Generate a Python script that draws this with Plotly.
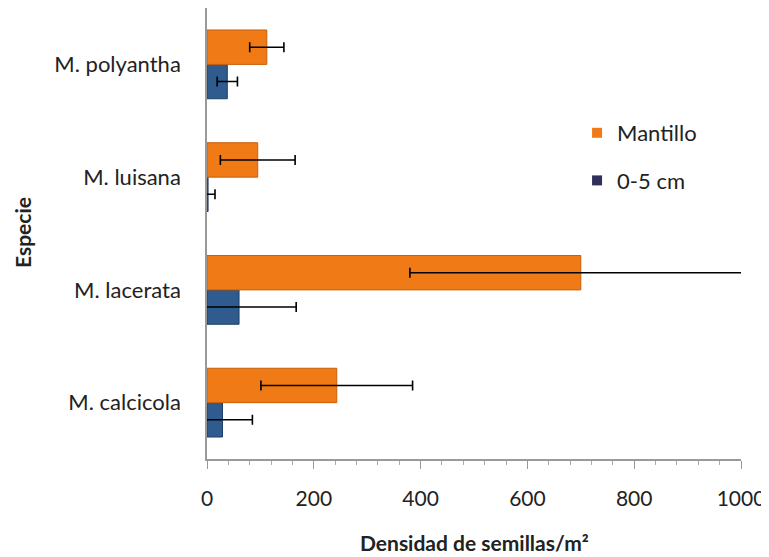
import plotly.graph_objects as go

species = ["M. calcicola", "M. lacerata", "M. luisana", "M. polyantha"]
mantillo = [243, 700, 95, 112]
mantillo_err = [142, 320, 70, 32]
suelo = [29, 60, 2, 38]
suelo_err = [56, 107, 13, 19]
xticks = [0, 200, 400, 600, 800, 1000]

orange = "#F07A15"
blue = "#2F5B8E"
font = "Lato"

fig = go.Figure()
fig.add_trace(go.Bar(
    y=species, x=suelo, orientation="h", name="0-5 cm", showlegend=False,
    marker=dict(color=blue, line=dict(color="#1F3F66", width=1)),
    error_x=dict(type="data", array=suelo_err, color="black", thickness=1.6, width=5),
))
fig.add_trace(go.Bar(
    y=species, x=mantillo, orientation="h", name="Mantillo", showlegend=False,
    marker=dict(color=orange, line=dict(color="#C85F0A", width=1)),
    error_x=dict(type="data", array=mantillo_err, color="black", thickness=1.6, width=5),
))
# legend entries
fig.add_trace(go.Scatter(x=[None], y=[None], mode="markers", name="Mantillo",
                         legendgroup="a",
                         marker=dict(symbol="square", size=10, color=orange)))
fig.add_trace(go.Scatter(x=[None], y=[None], mode="markers", name="0-5 cm",
                         legendgroup="b",
                         marker=dict(symbol="square", size=10, color="#30305A")))

PH = 451  # plot height in px
# the page body adds an 8px offset, so the figure is 8px smaller on each side
fig.update_layout(
    width=761, height=549,
    margin=dict(l=199, r=28, t=0, b=98, autoexpand=False),
    paper_bgcolor="white", plot_bgcolor="white",
    barmode="group", bargap=0.39, bargroupgap=0,
    font=dict(family=font, size=22, color="#222"),
    legend=dict(x=0.693, y=(459 - 112) / PH, xanchor="left", yanchor="top",
                bgcolor="rgba(0,0,0,0)", tracegroupgap=16,
                font=dict(size=22), itemwidth=30),
    xaxis=dict(range=[0, 1000], tickvals=xticks, showgrid=False,
               showline=True, linecolor="#999", linewidth=1.5,
               ticks="outside", ticklen=8, tickcolor="#999",
               ticklabelstandoff=12, automargin=False,
               tickfont=dict(size=21),
               minor=dict(dtick=40, ticks="outside", ticklen=4, tickcolor="#aaa"),
               zeroline=False, fixedrange=True),
    yaxis=dict(showgrid=False, showline=True, linecolor="#999", linewidth=1.5,
               ticks="", ticklabelstandoff=20, categoryorder="array",
               categoryarray=species, zeroline=False, automargin=False),
    annotations=[
        dict(text="<b>Densidad de semillas/m²</b>", xref="paper", yref="paper",
             x=0.5, y=(459 - 542) / PH, yanchor="middle", showarrow=False,
             font=dict(size=21, family=font)),
        dict(text="<b>Especie</b>", xref="paper", yref="paper",
             x=(22 - 207) / 534, y=(459 - 233) / PH, xanchor="center",
             yanchor="middle", textangle=-90, showarrow=False,
             font=dict(size=21, family=font)),
    ],
)

fig.write_html("out.html")
